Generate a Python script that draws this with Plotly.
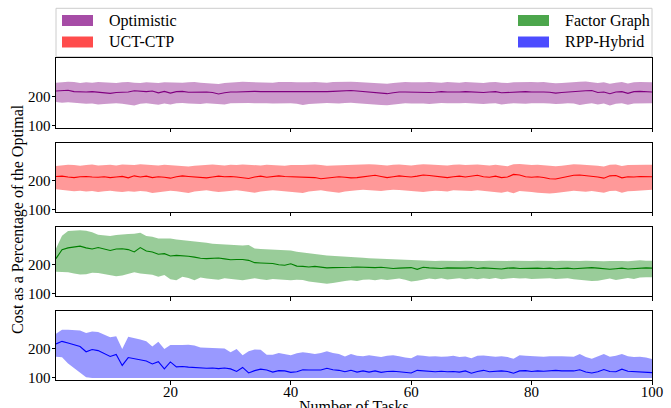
import plotly.graph_objects as go

# ---------------- data ----------------
tasks = list(range(1, 101))
series_names = ["Optimistic", "UCT-CTP", "Factor Graph", "RPP-Hybrid"]
x_ticks = [20, 40, 60, 80, 100]
y_ticks = [100, 200]

opt_mean = [218, 219, 221, 216, 215, 215, 216, 214, 211, 210,
            213, 214, 215, 219, 218, 216, 218, 212, 217, 211,
            216, 217, 214, 215, 216, 215, 213, 208, 212, 215,
            215, 216, 216, 217, 216, 216, 215, 214, 214, 215,
            216, 216, 215, 214, 215, 216, 217, 218, 219, 220,
            218, 216, 214, 213, 210, 209, 212, 215, 215, 214,
            215, 214, 213, 214, 216, 215, 214, 215, 216, 215,
            214, 213, 215, 216, 212, 213, 216, 217, 216, 215,
            216, 215, 214, 211, 213, 215, 216, 217, 219, 220,
            213, 215, 209, 215, 216, 210, 216, 217, 216, 215]
opt_upper = [247, 249, 250, 249, 246, 248, 247, 249, 248, 247,
             246, 248, 249, 247, 246, 248, 247, 246, 248, 247,
             246, 247, 248, 249, 247, 246, 244, 242, 246, 248,
             249, 250, 249, 248, 249, 248, 247, 249, 250, 249,
             248, 247, 248, 249, 248, 247, 249, 250, 251, 250,
             249, 248, 247, 246, 244, 243, 246, 248, 249, 248,
             247, 248, 249, 248, 247, 249, 248, 247, 249, 248,
             247, 246, 248, 249, 247, 246, 248, 249, 250, 249,
             248, 249, 247, 245, 246, 248, 249, 250, 251, 249,
             246, 248, 243, 247, 249, 244, 248, 249, 248, 248]
opt_lower = [180, 178, 179, 177, 176, 174, 175, 172, 173, 175,
             176, 174, 172, 168, 174, 176, 173, 171, 175, 172,
             176, 177, 175, 174, 173, 176, 175, 173, 172, 176,
             177, 178, 177, 176, 177, 176, 175, 176, 177, 176,
             174, 170, 173, 175, 176, 177, 176, 175, 177, 178,
             176, 174, 172, 171, 170, 169, 172, 174, 176, 175,
             176, 175, 173, 175, 177, 176, 175, 176, 177, 176,
             175, 173, 175, 176, 172, 174, 176, 175, 174, 176,
             177, 176, 175, 173, 174, 176, 175, 170, 173, 176,
             172, 175, 168, 174, 176, 171, 175, 176, 175, 176]

uct_mean = [214, 215, 212, 210, 213, 214, 212, 211, 213, 210,
            212, 214, 209, 216, 212, 215, 210, 213, 211, 208,
            213, 216, 214, 212, 210, 209, 212, 215, 213, 214,
            212, 210, 207, 212, 215, 211, 213, 216, 214, 213,
            214, 213, 212, 210, 206, 208, 212, 213, 211, 209,
            210, 212, 215, 218, 214, 210, 213, 216, 214, 212,
            215, 219, 217, 214, 212, 210, 213, 215, 212, 214,
            218, 213, 211, 215, 210, 212, 221, 219, 213, 211,
            213, 210, 206, 205, 209, 214, 218, 219, 217, 216,
            212, 208, 216, 217, 209, 213, 212, 214, 213, 213]
uct_upper = [250, 252, 254, 253, 251, 253, 255, 252, 253, 254,
             252, 255, 254, 253, 256, 255, 253, 252, 254, 253,
             252, 250, 248, 251, 253, 254, 255, 253, 252, 254,
             253, 255, 254, 253, 252, 254, 253, 252, 251, 253,
             252, 253, 254, 255, 253, 251, 252, 253, 254, 255,
             256, 257, 256, 255, 253, 252, 254, 255, 253, 252,
             254, 256, 255, 254, 253, 252, 254, 255, 253, 254,
             255, 253, 252, 254, 252, 249, 256, 257, 255, 253,
             254, 252, 250, 249, 251, 254, 256, 255, 254, 253,
             251, 248, 254, 255, 250, 253, 254, 255, 254, 254]
uct_lower = [170, 168, 166, 163, 165, 162, 164, 160, 163, 165,
             162, 160, 163, 161, 164, 162, 157, 160, 163, 165,
             163, 159, 157, 162, 164, 166, 163, 160, 162, 165,
             166, 164, 160, 158, 162, 164, 166, 165, 163, 161,
             160, 157, 162, 164, 166, 163, 160, 158, 162, 165,
             166, 168, 167, 165, 164, 166, 168, 167, 165, 164,
             162, 160, 163, 165, 164, 162, 166, 165, 163, 164,
             166, 164, 161, 160, 158, 162, 156, 164, 163, 160,
             158, 157, 155, 157, 160, 162, 165, 163, 161, 164,
             162, 158, 164, 165, 158, 163, 164, 166, 167, 168]

fg_mean = [221, 252, 258, 262, 264, 258, 254, 259, 255, 249,
           254, 255, 252, 244, 259, 247, 244, 236, 238, 230,
           232, 231, 229, 226, 222, 221, 222, 223, 220, 217,
           218, 218, 215, 207, 206, 206, 204, 200, 198, 203,
           195, 194, 192, 194, 191, 189, 190, 190, 189, 191,
           192, 191, 190, 190, 191, 189, 187, 188, 189, 190,
           184, 191, 189, 188, 187, 189, 188, 187, 188, 190,
           187, 189, 188, 187, 185, 188, 189, 187, 188, 187,
           188, 187, 188, 186, 187, 188, 186, 187, 189, 190,
           188, 187, 184, 186, 188, 185, 187, 189, 189, 188]
fg_upper = [256, 300, 316, 318, 319, 317, 312, 303, 301, 299,
            302, 305, 306, 307, 310, 299, 296, 290, 291, 290,
            287, 285, 283, 281, 279, 276, 272, 271, 270, 268,
            267, 266, 268, 256, 254, 253, 252, 251, 250, 249,
            245, 242, 238, 236, 234, 232, 231, 229, 227, 226,
            225, 224, 222, 221, 220, 219, 218, 217, 216, 215,
            214, 215, 214, 213, 214, 213, 212, 213, 214, 213,
            212, 213, 214, 213, 212, 213, 214, 213, 212, 213,
            214, 213, 212, 213, 214, 213, 212, 213, 214, 213,
            213, 212, 213, 214, 213, 212, 214, 215, 214, 214]
fg_lower = [176, 175, 174, 170, 166, 167, 172, 171, 168, 164,
            160, 163, 168, 174, 170, 168, 165, 158, 164, 150,
            146, 158, 154, 146, 156, 152, 150, 148, 153, 150,
            148, 146, 150, 153, 150, 147, 151, 150, 148, 146,
            148, 147, 142, 140, 136, 134, 137, 141, 144, 146,
            144, 148, 149, 146, 150, 147, 149, 152, 148, 142,
            145, 148, 152, 150, 153, 149, 151, 153, 150, 152,
            150, 153, 151, 154, 150, 152, 154, 152, 153, 151,
            152, 154, 153, 151, 152, 153, 150, 148, 146, 144,
            145, 148, 152, 147, 150, 154, 151, 156, 157, 157]

rpp_mean = [217, 226, 220, 215, 208, 190, 198, 194, 184, 174,
            181, 143, 170, 166, 162, 158, 148, 156, 131, 155,
            138, 139, 137, 135, 133, 133, 134, 132, 134, 131,
            122, 136, 117, 125, 130, 127, 120, 125, 124, 119,
            121, 128, 127, 126, 127, 133, 128, 126, 121, 126,
            120, 124, 120, 124, 119, 122, 123, 121, 118, 117,
            126, 124, 122, 121, 123, 121, 122, 120, 124, 116,
            122, 126, 121, 123, 124, 122, 116, 124, 125, 122,
            124, 123, 124, 126, 124, 123, 124, 128, 120, 117,
            121, 129, 122, 121, 130, 123, 122, 121, 120, 118]
rpp_upper = [252, 266, 266, 265, 263, 255, 260, 258, 248, 240,
             244, 200, 242, 238, 232, 226, 208, 225, 200, 213,
             212, 213, 214, 212, 205, 204, 205, 203, 201, 188,
             200, 178, 192, 198, 197, 180, 180, 186, 182, 178,
             185, 188, 186, 182, 186, 192, 186, 182, 174, 182,
             176, 175, 178, 176, 172, 176, 178, 175, 170, 168,
             178, 176, 174, 175, 173, 174, 176, 172, 174, 168,
             176, 177, 174, 173, 175, 172, 166, 178, 176, 175,
             174, 173, 175, 176, 175, 174, 173, 182, 172, 166,
             174, 182, 173, 176, 182, 175, 172, 173, 170, 165]
rpp_lower = [173, 171, 150, 135, 118, 102, 100, 100, 100, 100] + [100] * 90

means = [opt_mean, uct_mean, fg_mean, rpp_mean]
uppers = [opt_upper, uct_upper, fg_upper, rpp_upper]
lowers = [opt_lower, uct_lower, fg_lower, rpp_lower]

line_colors = ["#800080", "#ff0000", "#008000", "#0000ff"]
fill_colors = ["rgba(128,0,128,0.4)", "rgba(255,0,0,0.4)",
               "rgba(0,128,0,0.4)", "rgba(0,0,255,0.4)"]
patch_colors = ["rgba(128,0,128,0.7)", "rgba(255,0,0,0.7)",
                "rgba(0,128,0,0.7)", "rgba(0,0,255,0.7)"]

# ---------------- layout geometry (pixels) ----------------
W, H = 671, 408
FONT = "Liberation Serif"
ax_left, ax_right = 56, 652
panels = [(58.3, 127.6), (142.5, 211.8), (226.7, 296.0), (310.9, 380.2)]


def px_x(p):
    return p / W


def px_y(p):
    return 1 - p / H


fig = go.Figure()
layout = dict(
    template="none",
    width=W, height=H,
    margin=dict(l=0, r=0, t=0, b=0, pad=0, autoexpand=False),
    paper_bgcolor="white", plot_bgcolor="white",
    showlegend=False,
    font=dict(family=FONT, color="black"),
)

for i in range(4):
    s = "" if i == 0 else str(i + 1)
    xa, ya = "x" + s, "y" + s
    fig.add_trace(go.Scatter(x=tasks, y=lowers[i], mode="lines",
                             line=dict(width=0, color=line_colors[i]),
                             hoverinfo="skip", xaxis=xa, yaxis=ya))
    fig.add_trace(go.Scatter(x=tasks, y=uppers[i], mode="lines",
                             line=dict(width=0, color=line_colors[i]),
                             fill="tonexty", fillcolor=fill_colors[i],
                             hoverinfo="skip", xaxis=xa, yaxis=ya))
    fig.add_trace(go.Scatter(x=tasks, y=means[i], mode="lines",
                             line=dict(width=1.1, color=line_colors[i]),
                             name=series_names[i], xaxis=xa, yaxis=ya))
    top, bot = panels[i]
    common = dict(showgrid=False, zeroline=False, showline=True, mirror=True,
                  automargin=False,
                  linecolor="black", linewidth=1, ticks="outside", ticklen=3.5,
                  tickwidth=0.8, tickcolor="black",
                  tickfont=dict(family=FONT, size=15, color="black"))
    layout["xaxis" + s] = dict(common, domain=[px_x(ax_left), px_x(ax_right)],
                               range=[1, 100], tickvals=x_ticks,
                               showticklabels=(i == 3), anchor=ya,
                               ticklabelstandoff=-6)
    layout["yaxis" + s] = dict(common, domain=[px_y(bot), px_y(top)],
                               range=[92, 331], tickvals=y_ticks, anchor=xa,
                               ticklabelstandoff=-2)

shapes = []
annotations = []
# legend frame
shapes.append(dict(type="rect", xref="paper", yref="paper",
                   x0=px_x(ax_left), x1=px_x(ax_right),
                   y0=px_y(56.7), y1=px_y(8.3),
                   line=dict(color="#cccccc", width=1), fillcolor="white",
                   layer="below"))
legend_pos = [(62, 107, 20.5), (62, 107, 42.0), (518, 563, 20.5), (518, 563, 42.0)]
for i, (px0, tx, cy) in enumerate(legend_pos):
    shapes.append(dict(type="rect", xref="paper", yref="paper",
                       x0=px_x(px0), x1=px_x(px0 + 31),
                       y0=px_y(cy + 5.5), y1=px_y(cy - 5.5),
                       line=dict(width=0), fillcolor=patch_colors[i]))
    annotations.append(dict(x=px_x(tx), y=px_y(cy), xref="paper", yref="paper",
                            text=series_names[i], showarrow=False,
                            xanchor="left", yanchor="middle",
                            font=dict(family=FONT, size=16, color="black")))

annotations.append(dict(x=px_x(18), y=px_y(219), xref="paper", yref="paper",
                        text="Cost as a Percentage of the Optimal", textangle=-90,
                        showarrow=False, xanchor="center", yanchor="middle",
                        font=dict(family=FONT, size=16, color="black")))
annotations.append(dict(x=px_x(354), y=px_y(396), xref="paper", yref="paper",
                        text="Number of Tasks", showarrow=False,
                        xanchor="center", yanchor="top",
                        font=dict(family=FONT, size=16, color="black")))

layout["shapes"] = shapes
layout["annotations"] = annotations
fig.update_layout(**layout)
fig.write_html("out.html",
               config={"displayModeBar": False},
               post_script="document.body.style.margin='0';"
                           "document.body.style.padding='0';")
